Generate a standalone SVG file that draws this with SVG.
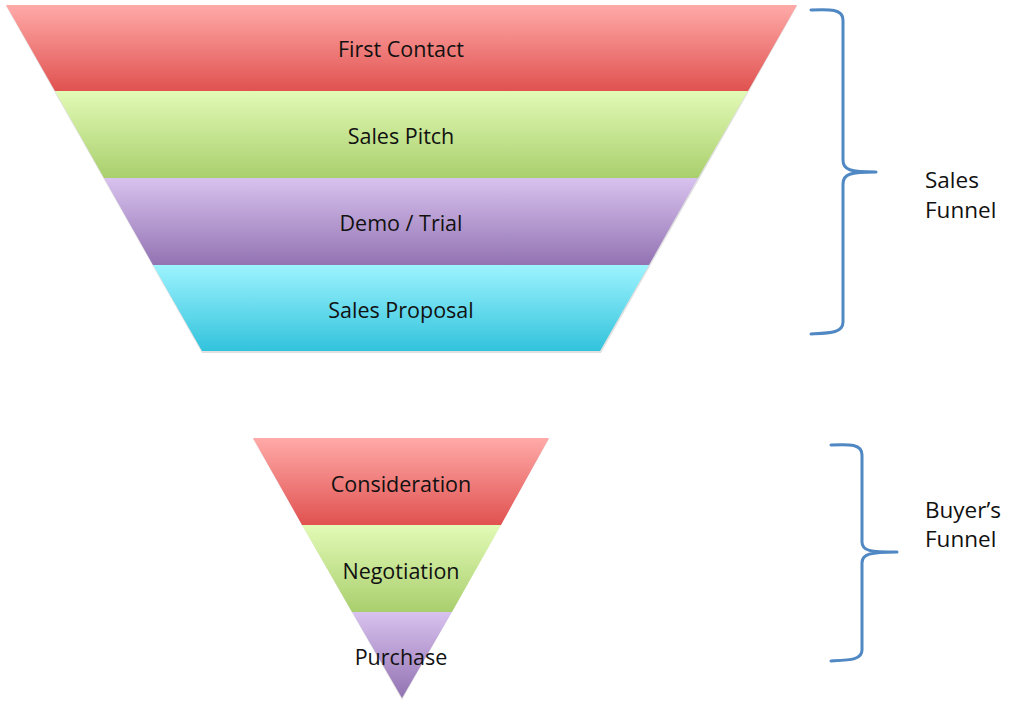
<svg xmlns="http://www.w3.org/2000/svg" width="1018" height="709" viewBox="0 0 1018 709">
<style>
.lbl{font-family:"Open Sans","Liberation Sans",sans-serif;font-size:21.5px;fill:#111;text-anchor:middle}
.side{font-family:"Open Sans","Liberation Sans",sans-serif;font-size:22.5px;fill:#111}
.brace{fill:none;stroke:#4F88C2;stroke-width:3;stroke-linecap:round;stroke-linejoin:round}
.sh{fill:#000;opacity:0.12}
</style>
<defs>
<linearGradient id="gr" x1="0" y1="0" x2="0" y2="1"><stop offset="0" stop-color="#FFAAA8"/><stop offset="1" stop-color="#E05250"/></linearGradient>
<linearGradient id="gg" x1="0" y1="0" x2="0" y2="1"><stop offset="0" stop-color="#E2FAB6"/><stop offset="1" stop-color="#A9CF6D"/></linearGradient>
<linearGradient id="gp" x1="0" y1="0" x2="0" y2="1"><stop offset="0" stop-color="#D8C2EE"/><stop offset="1" stop-color="#9373B3"/></linearGradient>
<linearGradient id="gc" x1="0" y1="0" x2="0" y2="1"><stop offset="0" stop-color="#9DF3FE"/><stop offset="1" stop-color="#32C3DC"/></linearGradient>
</defs>
<rect width="1018" height="709" fill="#fff"/>
<polygon class="sh" points="6,6 797,6 601,353 202,353"/>
<polygon class="sh" points="253,439 549,439 402,700"/>
<g id="first-contact"><polygon points="6,5 797,5 748,91 55,91" fill="url(#gr)"/><text class="lbl" x="401" y="57">First Contact</text></g>
<g id="sales-pitch"><polygon points="55,91 748,91 698,178 104,178" fill="url(#gg)"/><text class="lbl" x="401" y="144">Sales Pitch</text></g>
<g id="demo-trial"><polygon points="104,178 698,178 649,265 153,265" fill="url(#gp)"/><text class="lbl" x="401" y="231">Demo / Trial</text></g>
<g id="sales-proposal"><polygon points="153,265 649,265 600,351 202,351" fill="url(#gc)"/><text class="lbl" x="401" y="318">Sales Proposal</text></g>
<g id="consideration"><polygon points="253,438 549,438 501,525 302,525" fill="url(#gr)"/><text class="lbl" x="401" y="492">Consideration</text></g>
<g id="negotiation"><polygon points="302,525 501,525 452,612 352,612" fill="url(#gg)"/><text class="lbl" x="401" y="579">Negotiation</text></g>
<g id="purchase"><polygon points="352,612 452,612 402,698" fill="url(#gp)"/><text class="lbl" x="401" y="665">Purchase</text></g>
<g id="braces">
<path class="brace" d="M811,10 C830,9 843,9 843,20 L843,160 C843,170 850,172 876,172 C850,172 843,174 843,184 L843,322 C843,333 830,333 811,334"/>
<path class="brace" d="M831,445 C850,444 862,444 862,455 L862,542 C862,551 870,552 897,552 C870,552 862,554 862,563 L862,650 C862,660 850,660 831,661"/>
</g>
<g id="sales-funnel-label"><text class="side" x="925" y="188">Sales</text><text class="side" x="925" y="218">Funnel</text></g>
<g id="buyers-funnel-label"><text class="side" x="925" y="518">Buyer’s</text><text class="side" x="925" y="547">Funnel</text></g>
</svg>
